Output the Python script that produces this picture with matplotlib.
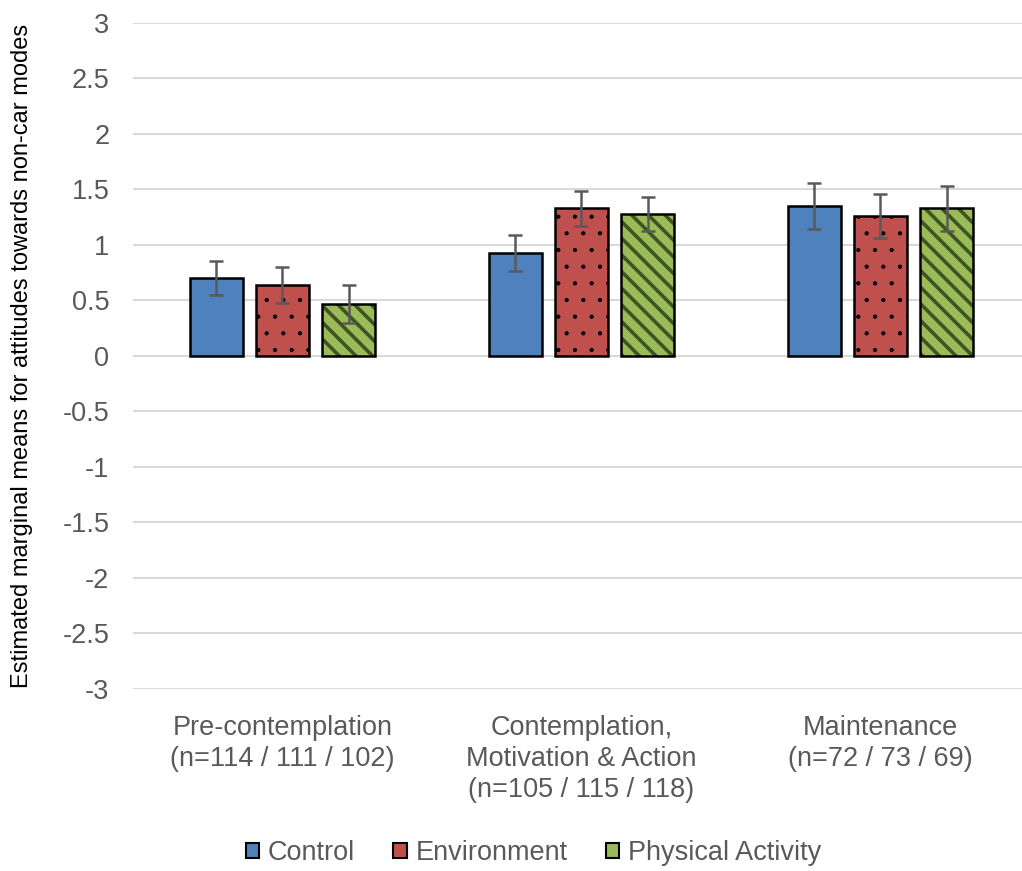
import numpy as np
import matplotlib.pyplot as plt
from matplotlib.patches import Patch

plt.rcParams['font.family'] = ['Liberation Sans', 'DejaVu Sans']

groups = ['Pre-contemplation\n(n=114 / 111 / 102)',
          'Contemplation,\nMotivation & Action\n(n=105 / 115 / 118)',
          'Maintenance\n(n=72 / 73 / 69)']
series = ['Control', 'Environment', 'Physical Activity']

control = [0.70, 0.93, 1.35]
environment = [0.64, 1.33, 1.26]
physical = [0.47, 1.28, 1.33]

control_err = [0.155, 0.16, 0.21]
environment_err = [0.16, 0.155, 0.195]
physical_err = [0.17, 0.155, 0.20]

colors = ['#4F81BD', '#C0504D', '#9BBB59']
hatch_colors = ['#4F81BD', '#000000', '#3F5420']
hatches = [None, '.', '\\\\']
hatch_widths = [1.0, 0.6, 2.6]

fig = plt.figure(figsize=(10.22, 8.71), dpi=100)
ax = fig.add_axes([0.1301, 0.209, 0.8777, 0.7646])

x = np.arange(len(groups))
width = 0.177
step = 0.222
values = [control, environment, physical]
errors = [control_err, environment_err, physical_err]

for i, (vals, errs) in enumerate(zip(values, errors)):
    pos = x + (i - 1) * step
    # pattern fill first (hatch width is picked up when the bar is made),
    # then a plain black outline on top
    plt.rcParams['hatch.linewidth'] = hatch_widths[i]
    ax.bar(pos, vals, width, color=colors[i], edgecolor=hatch_colors[i],
           hatch=hatches[i], linewidth=0, zorder=2)
    ax.bar(pos, vals, width, facecolor='none', edgecolor='black',
           linewidth=1.8, zorder=3)
    ax.errorbar(pos, vals, yerr=errs, fmt='none', ecolor='#595959',
                elinewidth=1.8, capsize=4.8, capthick=1.8, zorder=4)

ticks = np.arange(-3, 3.01, 0.5)
ax.set_ylim(-3, 3)
ax.set_yticks(ticks)
ax.set_yticklabels(['{:g}'.format(v) for v in ticks])
ax.set_xlim(-0.5, 2.5)
ax.set_xticks(x)
ax.set_xticklabels(groups, linespacing=1.25)

ax.grid(axis='y', color='#D9D9D9', linewidth=1.5, zorder=0)
ax.set_axisbelow(True)
for s in ax.spines.values():
    s.set_visible(False)
ax.tick_params(length=0, labelsize=19.5, colors='#595959')
ax.tick_params(axis='y', pad=17)
ax.tick_params(axis='x', pad=19)

ax.set_ylabel('Estimated marginal means for attitudes towards non-car modes',
              fontsize=17, color='black')
ax.yaxis.set_label_coords(-0.111, 0.5)

handles = [Patch(facecolor=colors[i], edgecolor='black', linewidth=1.5,
                 label=series[i]) for i in range(3)]
fig.legend(handles=handles, loc='center', bbox_to_anchor=(0.522, 0.0207),
           ncol=3, frameon=False, fontsize=19.5, handlelength=0.5,
           handleheight=0.5, handletextpad=0.33, columnspacing=1.4,
           labelcolor='#595959')

fig.savefig('out.png', dpi=100)
